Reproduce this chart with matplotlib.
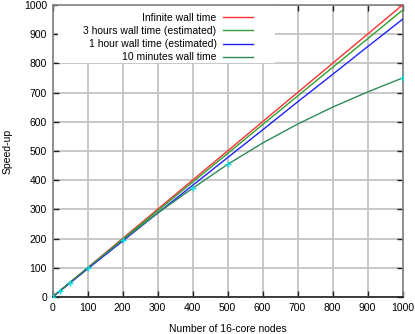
import matplotlib
matplotlib.use("Agg")
import matplotlib.pyplot as plt
from matplotlib.patches import Rectangle

plt.rcParams['font.family'] = ['Liberation Sans', 'DejaVu Sans']

nodes = [1, 100, 200, 300, 400, 500, 600, 700, 800, 900, 1000]
infinite = [1, 100, 200, 300, 400, 500, 600, 700, 800, 900, 1000]
three_hours = [1, 98, 197, 295, 393, 491, 590, 688, 786, 884, 982]
one_hour = [1, 96, 191, 287, 382, 477, 572, 668, 762, 857, 951]

nodes10 = [1, 50, 100, 200, 300, 400, 500, 600, 700, 800, 900, 1000]
ten_min = [1, 50, 99, 195, 287, 372, 454, 527, 592, 650, 702, 750]

meas_nodes = [1, 20, 50, 100, 200, 400, 500, 1000]
meas_speed = [1, 20, 49, 99, 195, 372, 454, 750]

labels = ["Infinite wall time", "3 hours wall time (estimated)",
          "1 hour wall time (estimated)", "10 minutes wall time"]
colors = ["#ff3030", "#30a030", "#2020ff", "#2e8b57"]

FS = 7.5

fig = plt.figure(figsize=(4.15, 3.34), dpi=100)
ax = fig.add_axes([52.5/415, 1-297/334, (402.5-52.5)/415, (297-5)/334])

ax.set_xlim(0, 1000)
ax.set_ylim(0, 1000)
ax.set_xticks(range(0, 1001, 100))
ax.set_yticks(range(0, 1001, 100))
ax.grid(True, color="#c4c4c4", linewidth=1.3, zorder=0)
ax.set_axisbelow(True)

ax.add_patch(Rectangle((15, 800), 622, 200, facecolor="white", edgecolor="none", zorder=1))

series = [(nodes, infinite), (nodes, three_hours), (nodes, one_hour), (nodes10, ten_min)]
for (x, y), lab, c in zip(series, labels, colors):
    ax.plot(x, y, color=c, linewidth=1.0, label=lab, zorder=3)

ax.plot(meas_nodes, meas_speed, linestyle="none", marker="+", color="#00e0e0",
        markersize=5, markeredgewidth=1.0, zorder=4)

for s in ax.spines.values():
    s.set_color("#808080")
    s.set_linewidth(1.2)
ax.spines['bottom'].set_color("#202020")

ax.tick_params(direction="in", length=4, width=1.0, color="#202020",
               top=True, right=True, labelsize=FS, pad=4)

ax.set_xlabel("Number of 16-core nodes", fontsize=FS, labelpad=8)
ax.set_ylabel("Speed-up", fontsize=FS, labelpad=8)

leg = ax.legend(loc="upper right", bbox_to_anchor=((253-52.5)/350, (297-13)/292),
                frameon=False, markerfirst=False, fontsize=FS, handlelength=2.9,
                handletextpad=0.6, labelspacing=0.3, borderaxespad=0, borderpad=0,
                alignment="right")

fig.savefig("out.png", dpi=100)
